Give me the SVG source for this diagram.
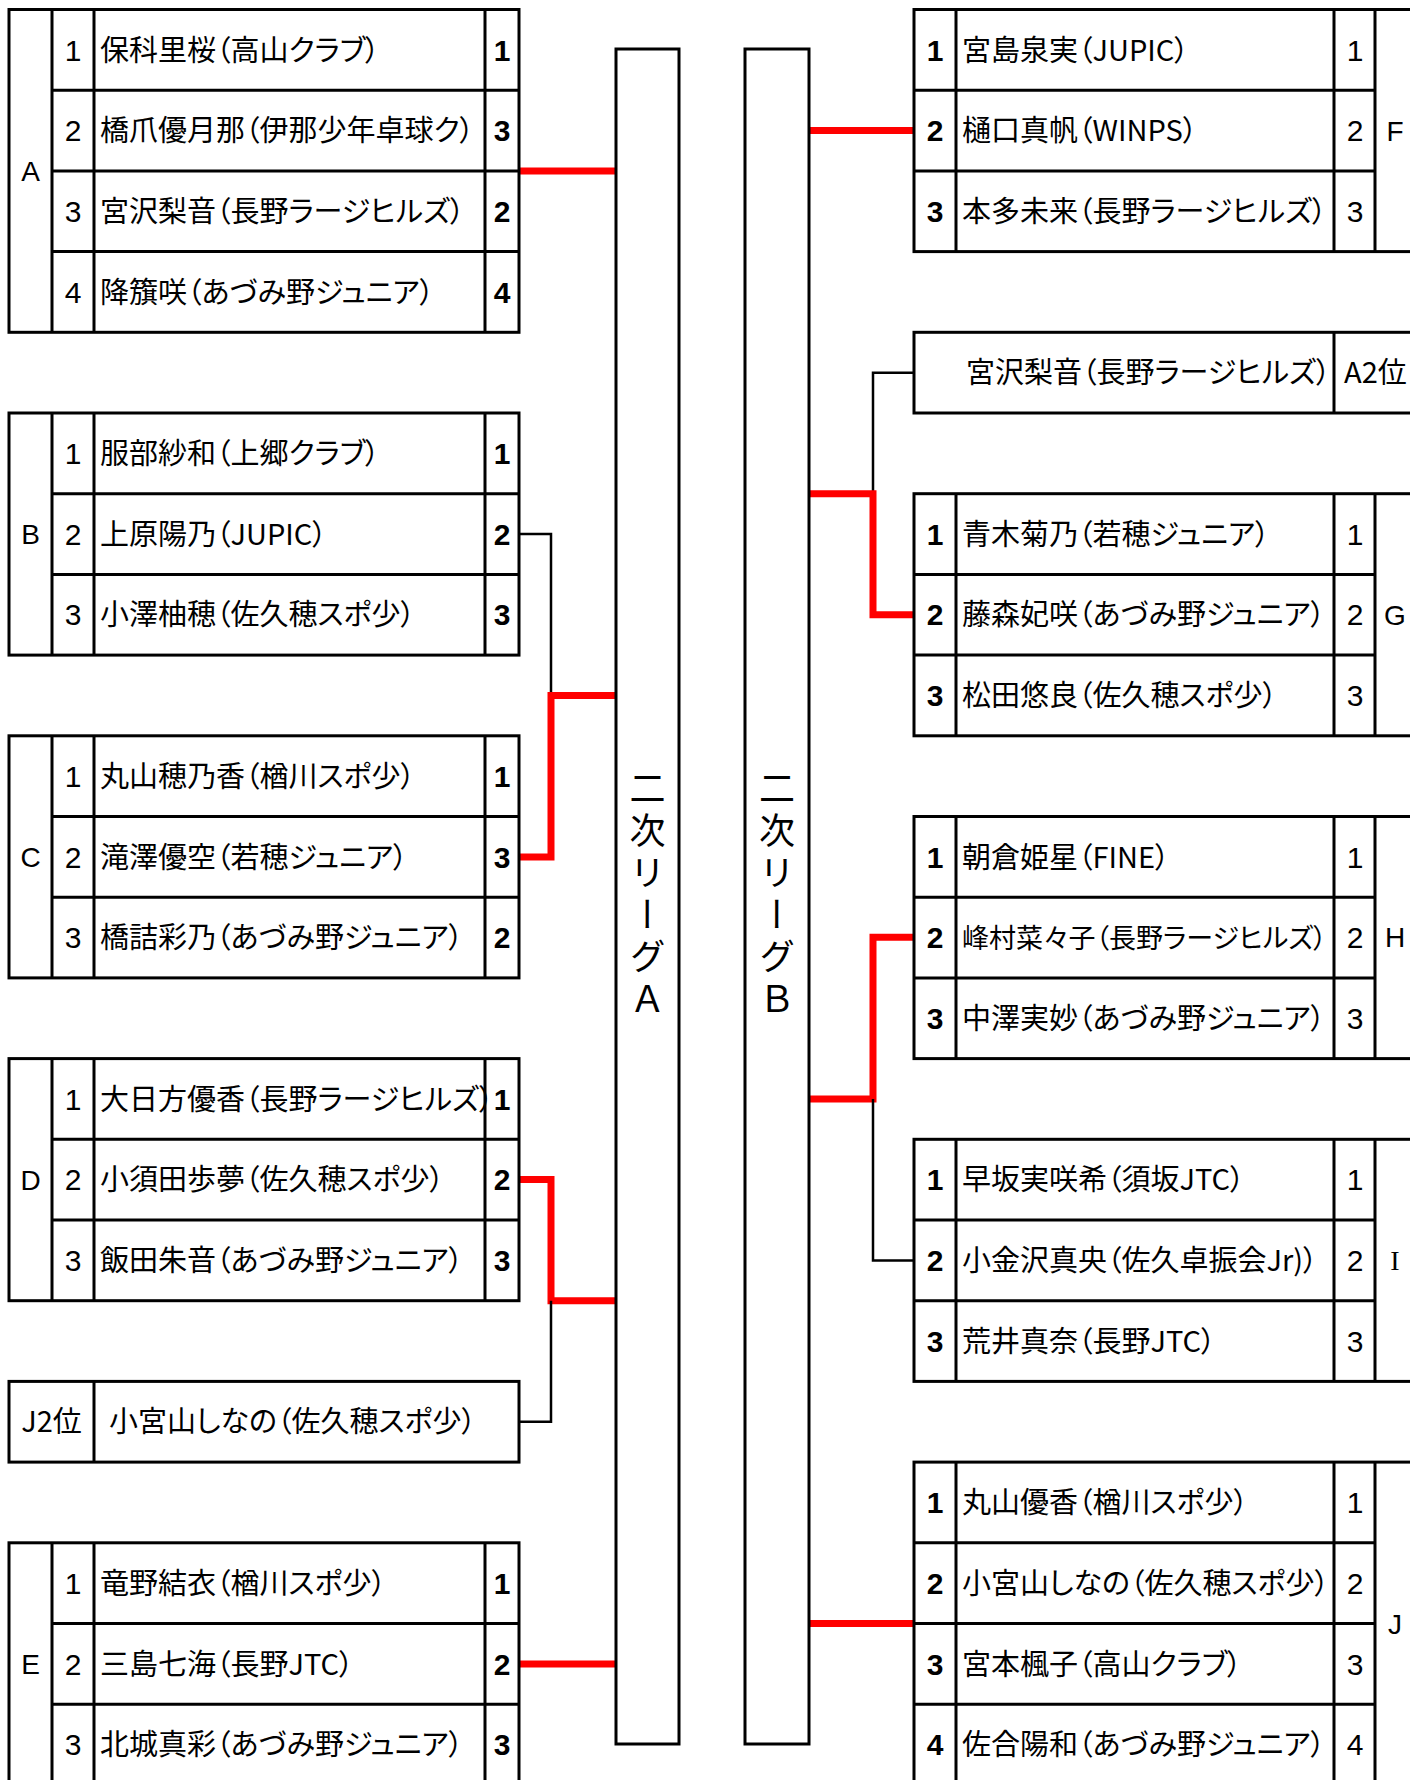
<svg xmlns="http://www.w3.org/2000/svg" width="1410" height="1780" viewBox="0 0 1410 1780">
<style>
.bg{fill:#ffffff}
.tb{fill:none;stroke:#000;stroke-width:3}
.ln{stroke:#000;stroke-width:3;fill:none}
.nm{font-family:"Noto Sans CJK JP","Noto Sans CJK SC",sans-serif;font-size:29px;fill:#000;font-feature-settings:"palt"}
.sm{font-size:27px}
.num{font-family:"Liberation Sans",Arial,sans-serif;font-size:30px;fill:#000;text-anchor:middle}
.b{font-weight:bold}
.let{font-family:"Liberation Sans",Arial,sans-serif;font-size:28px;fill:#000;text-anchor:middle}
.vt{font-family:"Noto Sans CJK JP","Noto Sans CJK SC",sans-serif;font-size:36px;fill:#000;writing-mode:vertical-rl;text-orientation:upright;text-anchor:middle;letter-spacing:6px}
.red{fill:none;stroke:#ff0000;stroke-width:7}
.blk{fill:none;stroke:#000;stroke-width:2.5}
.box{fill:none;stroke:#000;stroke-width:3}
</style>
<rect class="bg" x="0" y="0" width="1410" height="1780"/>

<g id="connectors">
<path class="red" d="M519,170.9 H616"/>
<path class="blk" d="M519,534 H551 V695.4"/>
<path class="red" d="M616,695.4 H551 V856.9 H519"/>
<path class="red" d="M519,1179.6 H551 V1300.7 H616"/>
<path class="blk" d="M551,1300.7 V1421.8 H519"/>
<path class="red" d="M519,1663.9 H616"/>
<path class="red" d="M809,130.5 H914"/>
<path class="blk" d="M914,372.7 H873 V493.7"/>
<path class="red" d="M809,493.7 H873 V614.7 H914"/>
<path class="red" d="M914,937.2 H873 V1099 H809"/>
<path class="blk" d="M873,1099 V1260.4 H914"/>
<path class="red" d="M809,1623.5 H914"/>
</g>

<g id="league-A">
<rect class="box" x="616" y="49" width="63" height="1695"/>
<text class="vt" x="647.5" y="896.5">二次リーグＡ</text>
</g>
<g id="league-B">
<rect class="box" x="745" y="49" width="64" height="1695"/>
<text class="vt" x="777" y="896.5">二次リーグＢ</text>
</g>

<g id="group-A">
<rect class="tb" x="9" y="9.5" width="510" height="322.8"/>
<path class="ln" d="M52,9.5 V332.3 M94,9.5 V332.3 M485,9.5 V332.3 M52,90.2 H519 M52,170.9 H519 M52,251.6 H519"/>
<text class="let" x="30.5" y="180.9">A</text>
<text class="num" x="73" y="60.5">1</text><text class="nm" x="100" y="60.5">保科里桜（高山クラブ）</text><text class="num b" x="502" y="60.5">1</text>
<text class="num" x="73" y="141.2">2</text><text class="nm" x="100" y="141.2">橋爪優月那（伊那少年卓球ク）</text><text class="num b" x="502" y="141.2">3</text>
<text class="num" x="73" y="221.9">3</text><text class="nm" x="100" y="221.9">宮沢梨音（長野ラージヒルズ）</text><text class="num b" x="502" y="221.9">2</text>
<text class="num" x="73" y="302.6">4</text><text class="nm" x="100" y="302.6">降籏咲（あづみ野ジュニア）</text><text class="num b" x="502" y="302.6">4</text>
</g>

<g id="group-B">
<rect class="tb" x="9" y="413" width="510" height="242.1"/>
<path class="ln" d="M52,413 V655.1 M94,413 V655.1 M485,413 V655.1 M52,493.7 H519 M52,574.4 H519"/>
<text class="let" x="30.5" y="544">B</text>
<text class="num" x="73" y="464">1</text><text class="nm" x="100" y="464">服部紗和（上郷クラブ）</text><text class="num b" x="502" y="464">1</text>
<text class="num" x="73" y="544.7">2</text><text class="nm" x="100" y="544.7">上原陽乃（JUPIC）</text><text class="num b" x="502" y="544.7">2</text>
<text class="num" x="73" y="625.4">3</text><text class="nm" x="100" y="625.4">小澤柚穂（佐久穂スポ少）</text><text class="num b" x="502" y="625.4">3</text>
</g>

<g id="group-C">
<rect class="tb" x="9" y="735.8" width="510" height="242.1"/>
<path class="ln" d="M52,735.8 V977.9 M94,735.8 V977.9 M485,735.8 V977.9 M52,816.5 H519 M52,897.2 H519"/>
<text class="let" x="30.5" y="866.9">C</text>
<text class="num" x="73" y="786.8">1</text><text class="nm" x="100" y="786.8">丸山穂乃香（楢川スポ少）</text><text class="num b" x="502" y="786.8">1</text>
<text class="num" x="73" y="867.5">2</text><text class="nm" x="100" y="867.5">滝澤優空（若穂ジュニア）</text><text class="num b" x="502" y="867.5">3</text>
<text class="num" x="73" y="948.2">3</text><text class="nm" x="100" y="948.2">橋詰彩乃（あづみ野ジュニア）</text><text class="num b" x="502" y="948.2">2</text>
</g>

<g id="group-D">
<rect class="tb" x="9" y="1058.6" width="510" height="242.1"/>
<path class="ln" d="M52,1058.6 V1300.7 M94,1058.6 V1300.7 M485,1058.6 V1300.7 M52,1139.3 H519 M52,1220 H519"/>
<text class="let" x="30.5" y="1189.6">D</text>
<text class="num" x="73" y="1109.6">1</text><text class="nm" x="100" y="1109.6">大日方優香（長野ラージヒルズ）</text><text class="num b" x="502" y="1109.6">1</text>
<text class="num" x="73" y="1190.3">2</text><text class="nm" x="100" y="1190.3">小須田歩夢（佐久穂スポ少）</text><text class="num b" x="502" y="1190.3">2</text>
<text class="num" x="73" y="1271">3</text><text class="nm" x="100" y="1271">飯田朱音（あづみ野ジュニア）</text><text class="num b" x="502" y="1271">3</text>
</g>

<g id="J2-slot">
<rect class="tb" x="9" y="1381.4" width="510" height="80.7"/>
<path class="ln" d="M94,1381.4 V1462.1"/>
<text class="nm" x="51.5" y="1432.4" text-anchor="middle">J2位</text>
<text class="nm" x="109" y="1432.4">小宮山しなの（佐久穂スポ少）</text>
</g>

<g id="group-E">
<rect class="tb" x="9" y="1542.8" width="510" height="260"/>
<path class="ln" d="M52,1542.8 V1800 M94,1542.8 V1800 M485,1542.8 V1800 M52,1623.5 H519 M52,1704.2 H519"/>
<text class="let" x="30.5" y="1673.9">E</text>
<text class="num" x="73" y="1593.8">1</text><text class="nm" x="100" y="1593.8">竜野結衣（楢川スポ少）</text><text class="num b" x="502" y="1593.8">1</text>
<text class="num" x="73" y="1674.5">2</text><text class="nm" x="100" y="1674.5">三島七海（長野JTC）</text><text class="num b" x="502" y="1674.5">2</text>
<text class="num" x="73" y="1755.2">3</text><text class="nm" x="100" y="1755.2">北城真彩（あづみ野ジュニア）</text><text class="num b" x="502" y="1755.2">3</text>
</g>

<g id="group-F">
<rect class="tb" x="914" y="9.5" width="520" height="242.1"/>
<path class="ln" d="M956,9.5 V251.6 M1334,9.5 V251.6 M1375,9.5 V251.6 M914,90.2 H1375 M914,170.9 H1375"/>
<text class="let" x="1395" y="140.5">F</text>
<text class="num b" x="935" y="60.5">1</text><text class="nm" x="962" y="60.5">宮島泉実（JUPIC）</text><text class="num" x="1355" y="60.5">1</text>
<text class="num b" x="935" y="141.2">2</text><text class="nm" x="962" y="141.2">樋口真帆（WINPS）</text><text class="num" x="1355" y="141.2">2</text>
<text class="num b" x="935" y="221.9">3</text><text class="nm" x="962" y="221.9">本多未来（長野ラージヒルズ）</text><text class="num" x="1355" y="221.9">3</text>
</g>

<g id="A2-slot">
<rect class="tb" x="914" y="332.3" width="520" height="80.7"/>
<path class="ln" d="M1334,332.3 V413"/>
<text class="nm" x="966" y="383.3">宮沢梨音（長野ラージヒルズ）</text>
<text class="nm" x="1344" y="383.3">A2位</text>
</g>

<g id="group-G">
<rect class="tb" x="914" y="493.7" width="520" height="242.1"/>
<path class="ln" d="M956,493.7 V735.8 M1334,493.7 V735.8 M1375,493.7 V735.8 M914,574.4 H1375 M914,655.1 H1375"/>
<text class="let" x="1395" y="624.7">G</text>
<text class="num b" x="935" y="544.7">1</text><text class="nm" x="962" y="544.7">青木菊乃（若穂ジュニア）</text><text class="num" x="1355" y="544.7">1</text>
<text class="num b" x="935" y="625.4">2</text><text class="nm" x="962" y="625.4">藤森妃咲（あづみ野ジュニア）</text><text class="num" x="1355" y="625.4">2</text>
<text class="num b" x="935" y="706.1">3</text><text class="nm" x="962" y="706.1">松田悠良（佐久穂スポ少）</text><text class="num" x="1355" y="706.1">3</text>
</g>

<g id="group-H">
<rect class="tb" x="914" y="816.5" width="520" height="242.1"/>
<path class="ln" d="M956,816.5 V1058.6 M1334,816.5 V1058.6 M1375,816.5 V1058.6 M914,897.2 H1375 M914,977.9 H1375"/>
<text class="let" x="1395" y="947.2">H</text>
<text class="num b" x="935" y="867.5">1</text><text class="nm" x="962" y="867.5">朝倉姫星（FINE）</text><text class="num" x="1355" y="867.5">1</text>
<text class="num b" x="935" y="948.2">2</text><text class="nm sm" x="962" y="947.6">峰村菜々子（長野ラージヒルズ）</text><text class="num" x="1355" y="948.2">2</text>
<text class="num b" x="935" y="1028.9">3</text><text class="nm" x="962" y="1028.9">中澤実妙（あづみ野ジュニア）</text><text class="num" x="1355" y="1028.9">3</text>
</g>

<g id="group-I">
<rect class="tb" x="914" y="1139.3" width="520" height="242.1"/>
<path class="ln" d="M956,1139.3 V1381.4 M1334,1139.3 V1381.4 M1375,1139.3 V1381.4 M914,1220 H1375 M914,1300.7 H1375"/>
<text class="let" x="1395" y="1270.4" style="font-family:'Liberation Serif',serif">I</text>
<text class="num b" x="935" y="1190.3">1</text><text class="nm" x="962" y="1190.3">早坂実咲希（須坂JTC）</text><text class="num" x="1355" y="1190.3">1</text>
<text class="num b" x="935" y="1271">2</text><text class="nm" x="962" y="1271">小金沢真央（佐久卓振会Jr)）</text><text class="num" x="1355" y="1271">2</text>
<text class="num b" x="935" y="1351.7">3</text><text class="nm" x="962" y="1351.7">荒井真奈（長野JTC）</text><text class="num" x="1355" y="1351.7">3</text>
</g>

<g id="group-J">
<rect class="tb" x="914" y="1462.1" width="520" height="340"/>
<path class="ln" d="M956,1462.1 V1800 M1334,1462.1 V1800 M1375,1462.1 V1800 M914,1542.8 H1375 M914,1623.5 H1375 M914,1704.2 H1375"/>
<text class="let" x="1395" y="1633.5">J</text>
<text class="num b" x="935" y="1513.1">1</text><text class="nm" x="962" y="1513.1">丸山優香（楢川スポ少）</text><text class="num" x="1355" y="1513.1">1</text>
<text class="num b" x="935" y="1593.8">2</text><text class="nm" x="962" y="1593.8">小宮山しなの（佐久穂スポ少）</text><text class="num" x="1355" y="1593.8">2</text>
<text class="num b" x="935" y="1674.5">3</text><text class="nm" x="962" y="1674.5">宮本楓子（高山クラブ）</text><text class="num" x="1355" y="1674.5">3</text>
<text class="num b" x="935" y="1755.2">4</text><text class="nm" x="962" y="1755.2">佐合陽和（あづみ野ジュニア）</text><text class="num" x="1355" y="1755.2">4</text>
</g>
</svg>
